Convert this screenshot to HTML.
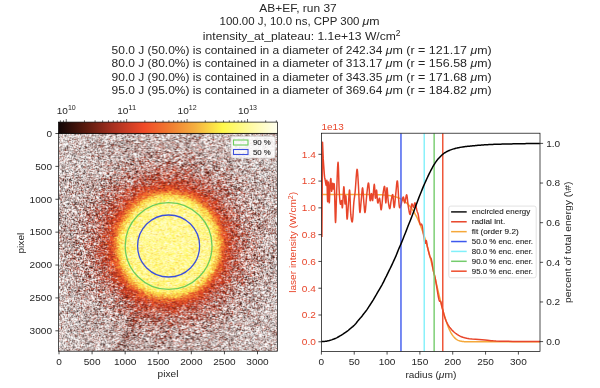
<!DOCTYPE html>
<html><head><meta charset="utf-8"><style>
html,body{margin:0;padding:0;background:#fff;width:600px;height:388px;overflow:hidden;position:relative}
#hm{position:absolute;left:58.50px;top:133.30px;width:218.90px;height:217.90px;
background:radial-gradient(circle at 110.10px 112.70px,rgb(254,244,142) 0,rgb(254,244,138) 45px,rgb(251,222,93) 48px,rgb(246,181,67) 51px,rgb(234,119,49) 54px,rgb(218,88,46) 57px,rgb(200,85,61) 61px,rgb(188,98,81) 66px,rgb(186,118,107) 72px,rgb(186,135,127) 80px,rgb(185,149,144) 90px,rgb(187,158,153) 100px,rgb(191,168,165) 115px,rgb(196,181,177) 130px,rgb(209,193,191) 150px)}
</style></head><body>
<canvas id="hm" width="219" height="218"></canvas>
<svg width="600" height="388" viewBox="0 0 600 388" style="position:absolute;left:0;top:0" font-family='"Liberation Sans", sans-serif'><g transform="translate(298.00 11.90)" fill="#262626"><text xml:space="preserve" x="-38.69" y="0.00" font-size="10.99" textLength="77.37" lengthAdjust="spacingAndGlyphs">AB+EF, run 37</text></g><g transform="translate(299.60 24.70)" fill="#262626"><text xml:space="preserve" x="-80.02" y="0.00" font-size="10.99" textLength="143.03" lengthAdjust="spacingAndGlyphs">100.00 J, 10.0 ns, CPP 300 </text><text xml:space="preserve" x="63.00" y="0.00" font-size="10.99" font-style="italic" textLength="6.72" lengthAdjust="spacingAndGlyphs">μ</text><text xml:space="preserve" x="69.73" y="0.00" font-size="10.99" textLength="10.30" lengthAdjust="spacingAndGlyphs">m</text></g><g transform="translate(301.70 39.80)" fill="#262626"><text xml:space="preserve" x="-98.85" y="0.00" font-size="10.99" textLength="192.99" lengthAdjust="spacingAndGlyphs">intensity_at_plateau: 1.1e+13 W/cm</text><text xml:space="preserve" x="94.14" y="-3.81" font-size="8.85" textLength="4.71" lengthAdjust="spacingAndGlyphs">2</text></g><g transform="translate(301.60 53.80)" fill="#262626"><text xml:space="preserve" x="-190.04" y="0.00" font-size="10.99" textLength="274.17" lengthAdjust="spacingAndGlyphs">50.0 J (50.0%) is contained in a diameter of 242.34 </text><text xml:space="preserve" x="84.13" y="0.00" font-size="10.99" font-style="italic" textLength="6.72" lengthAdjust="spacingAndGlyphs">μ</text><text xml:space="preserve" x="90.85" y="0.00" font-size="10.99" textLength="78.05" lengthAdjust="spacingAndGlyphs">m (r = 121.17 </text><text xml:space="preserve" x="168.90" y="0.00" font-size="10.99" font-style="italic" textLength="6.72" lengthAdjust="spacingAndGlyphs">μ</text><text xml:space="preserve" x="175.62" y="0.00" font-size="10.99" textLength="14.42" lengthAdjust="spacingAndGlyphs">m)</text></g><g transform="translate(301.60 67.20)" fill="#262626"><text xml:space="preserve" x="-190.04" y="0.00" font-size="10.99" textLength="274.17" lengthAdjust="spacingAndGlyphs">80.0 J (80.0%) is contained in a diameter of 313.17 </text><text xml:space="preserve" x="84.13" y="0.00" font-size="10.99" font-style="italic" textLength="6.72" lengthAdjust="spacingAndGlyphs">μ</text><text xml:space="preserve" x="90.85" y="0.00" font-size="10.99" textLength="78.05" lengthAdjust="spacingAndGlyphs">m (r = 156.58 </text><text xml:space="preserve" x="168.90" y="0.00" font-size="10.99" font-style="italic" textLength="6.72" lengthAdjust="spacingAndGlyphs">μ</text><text xml:space="preserve" x="175.62" y="0.00" font-size="10.99" textLength="14.42" lengthAdjust="spacingAndGlyphs">m)</text></g><g transform="translate(301.60 80.50)" fill="#262626"><text xml:space="preserve" x="-190.04" y="0.00" font-size="10.99" textLength="274.17" lengthAdjust="spacingAndGlyphs">90.0 J (90.0%) is contained in a diameter of 343.35 </text><text xml:space="preserve" x="84.13" y="0.00" font-size="10.99" font-style="italic" textLength="6.72" lengthAdjust="spacingAndGlyphs">μ</text><text xml:space="preserve" x="90.85" y="0.00" font-size="10.99" textLength="78.05" lengthAdjust="spacingAndGlyphs">m (r = 171.68 </text><text xml:space="preserve" x="168.90" y="0.00" font-size="10.99" font-style="italic" textLength="6.72" lengthAdjust="spacingAndGlyphs">μ</text><text xml:space="preserve" x="175.62" y="0.00" font-size="10.99" textLength="14.42" lengthAdjust="spacingAndGlyphs">m)</text></g><g transform="translate(301.60 93.70)" fill="#262626"><text xml:space="preserve" x="-190.04" y="0.00" font-size="10.99" textLength="274.17" lengthAdjust="spacingAndGlyphs">95.0 J (95.0%) is contained in a diameter of 369.64 </text><text xml:space="preserve" x="84.13" y="0.00" font-size="10.99" font-style="italic" textLength="6.72" lengthAdjust="spacingAndGlyphs">μ</text><text xml:space="preserve" x="90.85" y="0.00" font-size="10.99" textLength="78.05" lengthAdjust="spacingAndGlyphs">m (r = 184.82 </text><text xml:space="preserve" x="168.90" y="0.00" font-size="10.99" font-style="italic" textLength="6.72" lengthAdjust="spacingAndGlyphs">μ</text><text xml:space="preserve" x="175.62" y="0.00" font-size="10.99" textLength="14.42" lengthAdjust="spacingAndGlyphs">m)</text></g><line x1="59.00" y1="351.20" x2="59.00" y2="354.30" stroke="#000" stroke-width="0.7"/><g transform="translate(59.00 364.50)" fill="#262626"><text xml:space="preserve" x="-2.80" y="0.00" font-size="9.15" textLength="5.60" lengthAdjust="spacingAndGlyphs">0</text></g><line x1="55.40" y1="133.50" x2="58.50" y2="133.50" stroke="#000" stroke-width="0.7"/><g transform="translate(52.00 136.80)" fill="#262626"><text xml:space="preserve" x="-5.60" y="0.00" font-size="9.15" textLength="5.60" lengthAdjust="spacingAndGlyphs">0</text></g><line x1="92.09" y1="351.20" x2="92.09" y2="354.30" stroke="#000" stroke-width="0.7"/><g transform="translate(92.09 364.50)" fill="#262626"><text xml:space="preserve" x="-8.40" y="0.00" font-size="9.15" textLength="16.80" lengthAdjust="spacingAndGlyphs">500</text></g><line x1="55.40" y1="166.38" x2="58.50" y2="166.38" stroke="#000" stroke-width="0.7"/><g transform="translate(52.00 169.69)" fill="#262626"><text xml:space="preserve" x="-16.80" y="0.00" font-size="9.15" textLength="16.80" lengthAdjust="spacingAndGlyphs">500</text></g><line x1="125.17" y1="351.20" x2="125.17" y2="354.30" stroke="#000" stroke-width="0.7"/><g transform="translate(125.17 364.50)" fill="#262626"><text xml:space="preserve" x="-11.20" y="0.00" font-size="9.15" textLength="22.40" lengthAdjust="spacingAndGlyphs">1000</text></g><line x1="55.40" y1="199.27" x2="58.50" y2="199.27" stroke="#000" stroke-width="0.7"/><g transform="translate(52.00 202.57)" fill="#262626"><text xml:space="preserve" x="-22.40" y="0.00" font-size="9.15" textLength="22.40" lengthAdjust="spacingAndGlyphs">1000</text></g><line x1="158.25" y1="351.20" x2="158.25" y2="354.30" stroke="#000" stroke-width="0.7"/><g transform="translate(158.25 364.50)" fill="#262626"><text xml:space="preserve" x="-11.20" y="0.00" font-size="9.15" textLength="22.40" lengthAdjust="spacingAndGlyphs">1500</text></g><line x1="55.40" y1="232.15" x2="58.50" y2="232.15" stroke="#000" stroke-width="0.7"/><g transform="translate(52.00 235.45)" fill="#262626"><text xml:space="preserve" x="-22.40" y="0.00" font-size="9.15" textLength="22.40" lengthAdjust="spacingAndGlyphs">1500</text></g><line x1="191.34" y1="351.20" x2="191.34" y2="354.30" stroke="#000" stroke-width="0.7"/><g transform="translate(191.34 364.50)" fill="#262626"><text xml:space="preserve" x="-11.20" y="0.00" font-size="9.15" textLength="22.40" lengthAdjust="spacingAndGlyphs">2000</text></g><line x1="55.40" y1="265.04" x2="58.50" y2="265.04" stroke="#000" stroke-width="0.7"/><g transform="translate(52.00 268.34)" fill="#262626"><text xml:space="preserve" x="-22.40" y="0.00" font-size="9.15" textLength="22.40" lengthAdjust="spacingAndGlyphs">2000</text></g><line x1="224.43" y1="351.20" x2="224.43" y2="354.30" stroke="#000" stroke-width="0.7"/><g transform="translate(224.43 364.50)" fill="#262626"><text xml:space="preserve" x="-11.20" y="0.00" font-size="9.15" textLength="22.40" lengthAdjust="spacingAndGlyphs">2500</text></g><line x1="55.40" y1="297.92" x2="58.50" y2="297.92" stroke="#000" stroke-width="0.7"/><g transform="translate(52.00 301.22)" fill="#262626"><text xml:space="preserve" x="-22.40" y="0.00" font-size="9.15" textLength="22.40" lengthAdjust="spacingAndGlyphs">2500</text></g><line x1="257.51" y1="351.20" x2="257.51" y2="354.30" stroke="#000" stroke-width="0.7"/><g transform="translate(257.51 364.50)" fill="#262626"><text xml:space="preserve" x="-11.20" y="0.00" font-size="9.15" textLength="22.40" lengthAdjust="spacingAndGlyphs">3000</text></g><line x1="55.40" y1="330.81" x2="58.50" y2="330.81" stroke="#000" stroke-width="0.7"/><g transform="translate(52.00 334.11)" fill="#262626"><text xml:space="preserve" x="-22.40" y="0.00" font-size="9.15" textLength="22.40" lengthAdjust="spacingAndGlyphs">3000</text></g><g transform="translate(168.00 376.60)" fill="#262626"><text xml:space="preserve" x="-10.41" y="0.00" font-size="9.15" textLength="20.83" lengthAdjust="spacingAndGlyphs">pixel</text></g><g transform="translate(24.00 243.10) rotate(-90)" fill="#262626"><text xml:space="preserve" x="-10.41" y="0.00" font-size="9.15" textLength="20.83" lengthAdjust="spacingAndGlyphs">pixel</text></g><circle cx="168.60" cy="246.00" r="43.4" fill="none" stroke="#6ccc5c" stroke-width="1.3"/><circle cx="168.60" cy="246.00" r="31.0" fill="none" stroke="#3c50dc" stroke-width="1.3"/><rect x="231" y="136.5" width="44" height="21.5" rx="2" fill="rgba(255,255,255,0.85)" stroke="#d6d6d6" stroke-width="0.7"/><rect x="233.5" y="140" width="14.5" height="5" fill="none" stroke="#6ccc5c" stroke-width="1.1"/><rect x="233.5" y="149.5" width="14.5" height="5" fill="none" stroke="#3c50dc" stroke-width="1.1"/><g transform="translate(253.00 145.20)" fill="#262626" stroke="#262626" stroke-width="0.12"><text xml:space="preserve" x="0.00" y="0.00" font-size="7.28" textLength="17.78" lengthAdjust="spacingAndGlyphs">90 %</text></g><g transform="translate(253.00 154.70)" fill="#262626" stroke="#262626" stroke-width="0.12"><text xml:space="preserve" x="0.00" y="0.00" font-size="7.28" textLength="17.78" lengthAdjust="spacingAndGlyphs">50 %</text></g><rect x="58.50" y="133.30" width="218.90" height="217.90" fill="none" stroke="#000" stroke-width="0.7"/><defs><linearGradient id="cb" x1="0" x2="1" y1="0" y2="0"><stop offset="0.000" stop-color="rgb(16,5,5)"/><stop offset="0.125" stop-color="rgb(90,26,14)"/><stop offset="0.250" stop-color="rgb(168,48,32)"/><stop offset="0.390" stop-color="rgb(240,74,40)"/><stop offset="0.500" stop-color="rgb(240,120,48)"/><stop offset="0.625" stop-color="rgb(245,176,64)"/><stop offset="0.750" stop-color="rgb(255,248,74)"/><stop offset="0.875" stop-color="rgb(255,250,160)"/><stop offset="1.000" stop-color="rgb(255,255,240)"/></linearGradient></defs><rect x="58.50" y="122.10" width="218.90" height="11.20" fill="url(#cb)" stroke="#000" stroke-width="0.7"/><line x1="60.39" y1="120.30" x2="60.39" y2="122.10" stroke="#000" stroke-width="0.6"/><line x1="63.49" y1="120.30" x2="63.49" y2="122.10" stroke="#000" stroke-width="0.6"/><line x1="66.25" y1="119.00" x2="66.25" y2="122.10" stroke="#000" stroke-width="0.6"/><g transform="translate(66.25 113.60)" fill="#262626"><text xml:space="preserve" x="-9.52" y="0.00" font-size="9.15" textLength="11.20" lengthAdjust="spacingAndGlyphs">10</text><text xml:space="preserve" x="1.68" y="-3.34" font-size="7.37" textLength="7.84" lengthAdjust="spacingAndGlyphs">10</text></g><line x1="84.44" y1="120.30" x2="84.44" y2="122.10" stroke="#000" stroke-width="0.6"/><line x1="95.08" y1="120.30" x2="95.08" y2="122.10" stroke="#000" stroke-width="0.6"/><line x1="102.63" y1="120.30" x2="102.63" y2="122.10" stroke="#000" stroke-width="0.6"/><line x1="108.48" y1="120.30" x2="108.48" y2="122.10" stroke="#000" stroke-width="0.6"/><line x1="113.27" y1="120.30" x2="113.27" y2="122.10" stroke="#000" stroke-width="0.6"/><line x1="117.31" y1="120.30" x2="117.31" y2="122.10" stroke="#000" stroke-width="0.6"/><line x1="120.81" y1="120.30" x2="120.81" y2="122.10" stroke="#000" stroke-width="0.6"/><line x1="123.91" y1="120.30" x2="123.91" y2="122.10" stroke="#000" stroke-width="0.6"/><line x1="126.67" y1="119.00" x2="126.67" y2="122.10" stroke="#000" stroke-width="0.6"/><g transform="translate(126.67 113.60)" fill="#262626"><text xml:space="preserve" x="-9.52" y="0.00" font-size="9.15" textLength="11.20" lengthAdjust="spacingAndGlyphs">10</text><text xml:space="preserve" x="1.68" y="-3.34" font-size="7.37" textLength="7.84" lengthAdjust="spacingAndGlyphs">11</text></g><line x1="144.86" y1="120.30" x2="144.86" y2="122.10" stroke="#000" stroke-width="0.6"/><line x1="155.50" y1="120.30" x2="155.50" y2="122.10" stroke="#000" stroke-width="0.6"/><line x1="163.05" y1="120.30" x2="163.05" y2="122.10" stroke="#000" stroke-width="0.6"/><line x1="168.90" y1="120.30" x2="168.90" y2="122.10" stroke="#000" stroke-width="0.6"/><line x1="173.69" y1="120.30" x2="173.69" y2="122.10" stroke="#000" stroke-width="0.6"/><line x1="177.73" y1="120.30" x2="177.73" y2="122.10" stroke="#000" stroke-width="0.6"/><line x1="181.23" y1="120.30" x2="181.23" y2="122.10" stroke="#000" stroke-width="0.6"/><line x1="184.33" y1="120.30" x2="184.33" y2="122.10" stroke="#000" stroke-width="0.6"/><line x1="187.09" y1="119.00" x2="187.09" y2="122.10" stroke="#000" stroke-width="0.6"/><g transform="translate(187.09 113.60)" fill="#262626"><text xml:space="preserve" x="-9.52" y="0.00" font-size="9.15" textLength="11.20" lengthAdjust="spacingAndGlyphs">10</text><text xml:space="preserve" x="1.68" y="-3.34" font-size="7.37" textLength="7.84" lengthAdjust="spacingAndGlyphs">12</text></g><line x1="205.28" y1="120.30" x2="205.28" y2="122.10" stroke="#000" stroke-width="0.6"/><line x1="215.92" y1="120.30" x2="215.92" y2="122.10" stroke="#000" stroke-width="0.6"/><line x1="223.47" y1="120.30" x2="223.47" y2="122.10" stroke="#000" stroke-width="0.6"/><line x1="229.32" y1="120.30" x2="229.32" y2="122.10" stroke="#000" stroke-width="0.6"/><line x1="234.11" y1="120.30" x2="234.11" y2="122.10" stroke="#000" stroke-width="0.6"/><line x1="238.15" y1="120.30" x2="238.15" y2="122.10" stroke="#000" stroke-width="0.6"/><line x1="241.65" y1="120.30" x2="241.65" y2="122.10" stroke="#000" stroke-width="0.6"/><line x1="244.75" y1="120.30" x2="244.75" y2="122.10" stroke="#000" stroke-width="0.6"/><line x1="247.51" y1="119.00" x2="247.51" y2="122.10" stroke="#000" stroke-width="0.6"/><g transform="translate(247.51 113.60)" fill="#262626"><text xml:space="preserve" x="-9.52" y="0.00" font-size="9.15" textLength="11.20" lengthAdjust="spacingAndGlyphs">10</text><text xml:space="preserve" x="1.68" y="-3.34" font-size="7.37" textLength="7.84" lengthAdjust="spacingAndGlyphs">13</text></g><line x1="265.70" y1="120.30" x2="265.70" y2="122.10" stroke="#000" stroke-width="0.6"/><line x1="276.34" y1="120.30" x2="276.34" y2="122.10" stroke="#000" stroke-width="0.6"/><line x1="321.40" y1="351.50" x2="321.40" y2="354.60" stroke="#000" stroke-width="0.7"/><g transform="translate(321.40 364.50)" fill="#262626"><text xml:space="preserve" x="-2.80" y="0.00" font-size="9.15" textLength="5.60" lengthAdjust="spacingAndGlyphs">0</text></g><line x1="354.23" y1="351.50" x2="354.23" y2="354.60" stroke="#000" stroke-width="0.7"/><g transform="translate(354.23 364.50)" fill="#262626"><text xml:space="preserve" x="-5.60" y="0.00" font-size="9.15" textLength="11.20" lengthAdjust="spacingAndGlyphs">50</text></g><line x1="387.07" y1="351.50" x2="387.07" y2="354.60" stroke="#000" stroke-width="0.7"/><g transform="translate(387.07 364.50)" fill="#262626"><text xml:space="preserve" x="-8.40" y="0.00" font-size="9.15" textLength="16.80" lengthAdjust="spacingAndGlyphs">100</text></g><line x1="419.90" y1="351.50" x2="419.90" y2="354.60" stroke="#000" stroke-width="0.7"/><g transform="translate(419.90 364.50)" fill="#262626"><text xml:space="preserve" x="-8.40" y="0.00" font-size="9.15" textLength="16.80" lengthAdjust="spacingAndGlyphs">150</text></g><line x1="452.73" y1="351.50" x2="452.73" y2="354.60" stroke="#000" stroke-width="0.7"/><g transform="translate(452.73 364.50)" fill="#262626"><text xml:space="preserve" x="-8.40" y="0.00" font-size="9.15" textLength="16.80" lengthAdjust="spacingAndGlyphs">200</text></g><line x1="485.57" y1="351.50" x2="485.57" y2="354.60" stroke="#000" stroke-width="0.7"/><g transform="translate(485.57 364.50)" fill="#262626"><text xml:space="preserve" x="-8.40" y="0.00" font-size="9.15" textLength="16.80" lengthAdjust="spacingAndGlyphs">250</text></g><line x1="518.40" y1="351.50" x2="518.40" y2="354.60" stroke="#000" stroke-width="0.7"/><g transform="translate(518.40 364.50)" fill="#262626"><text xml:space="preserve" x="-8.40" y="0.00" font-size="9.15" textLength="16.80" lengthAdjust="spacingAndGlyphs">300</text></g><g transform="translate(430.90 377.60)" fill="#262626"><text xml:space="preserve" x="-25.52" y="0.00" font-size="9.15" textLength="33.43" lengthAdjust="spacingAndGlyphs">radius (</text><text xml:space="preserve" x="7.91" y="0.00" font-size="9.15" font-style="italic" textLength="5.60" lengthAdjust="spacingAndGlyphs">μ</text><text xml:space="preserve" x="13.51" y="0.00" font-size="9.15" textLength="12.01" lengthAdjust="spacingAndGlyphs">m)</text></g><line x1="318.40" y1="341.80" x2="321.50" y2="341.80" stroke="#000" stroke-width="0.7"/><g transform="translate(315.80 345.10)" fill="#e8452a"><text xml:space="preserve" x="-14.00" y="0.00" font-size="9.15" textLength="14.00" lengthAdjust="spacingAndGlyphs">0.0</text></g><line x1="318.40" y1="315.01" x2="321.50" y2="315.01" stroke="#000" stroke-width="0.7"/><g transform="translate(315.80 318.31)" fill="#e8452a"><text xml:space="preserve" x="-14.00" y="0.00" font-size="9.15" textLength="14.00" lengthAdjust="spacingAndGlyphs">0.2</text></g><line x1="318.40" y1="288.23" x2="321.50" y2="288.23" stroke="#000" stroke-width="0.7"/><g transform="translate(315.80 291.53)" fill="#e8452a"><text xml:space="preserve" x="-14.00" y="0.00" font-size="9.15" textLength="14.00" lengthAdjust="spacingAndGlyphs">0.4</text></g><line x1="318.40" y1="261.44" x2="321.50" y2="261.44" stroke="#000" stroke-width="0.7"/><g transform="translate(315.80 264.74)" fill="#e8452a"><text xml:space="preserve" x="-14.00" y="0.00" font-size="9.15" textLength="14.00" lengthAdjust="spacingAndGlyphs">0.6</text></g><line x1="318.40" y1="234.66" x2="321.50" y2="234.66" stroke="#000" stroke-width="0.7"/><g transform="translate(315.80 237.96)" fill="#e8452a"><text xml:space="preserve" x="-14.00" y="0.00" font-size="9.15" textLength="14.00" lengthAdjust="spacingAndGlyphs">0.8</text></g><line x1="318.40" y1="207.87" x2="321.50" y2="207.87" stroke="#000" stroke-width="0.7"/><g transform="translate(315.80 211.17)" fill="#e8452a"><text xml:space="preserve" x="-14.00" y="0.00" font-size="9.15" textLength="14.00" lengthAdjust="spacingAndGlyphs">1.0</text></g><line x1="318.40" y1="181.08" x2="321.50" y2="181.08" stroke="#000" stroke-width="0.7"/><g transform="translate(315.80 184.38)" fill="#e8452a"><text xml:space="preserve" x="-14.00" y="0.00" font-size="9.15" textLength="14.00" lengthAdjust="spacingAndGlyphs">1.2</text></g><line x1="318.40" y1="154.30" x2="321.50" y2="154.30" stroke="#000" stroke-width="0.7"/><g transform="translate(315.80 157.60)" fill="#e8452a"><text xml:space="preserve" x="-14.00" y="0.00" font-size="9.15" textLength="14.00" lengthAdjust="spacingAndGlyphs">1.4</text></g><g transform="translate(321.50 130.10)" fill="#e8452a"><text xml:space="preserve" x="0.00" y="0.00" font-size="9.15" textLength="22.21" lengthAdjust="spacingAndGlyphs">1e13</text></g><g transform="translate(295.50 242.30) rotate(-90)" fill="#e8452a"><text xml:space="preserve" x="-50.53" y="0.00" font-size="9.15" textLength="93.71" lengthAdjust="spacingAndGlyphs">laser intensity (W/cm</text><text xml:space="preserve" x="43.18" y="-2.90" font-size="7.37" textLength="3.92" lengthAdjust="spacingAndGlyphs">2</text><text xml:space="preserve" x="47.10" y="0.00" font-size="9.15" textLength="3.43" lengthAdjust="spacingAndGlyphs">)</text></g><line x1="540.00" y1="341.60" x2="543.10" y2="341.60" stroke="#000" stroke-width="0.7"/><g transform="translate(546.20 344.90)" fill="#262626"><text xml:space="preserve" x="0.00" y="0.00" font-size="9.15" textLength="14.00" lengthAdjust="spacingAndGlyphs">0.0</text></g><line x1="540.00" y1="301.96" x2="543.10" y2="301.96" stroke="#000" stroke-width="0.7"/><g transform="translate(546.20 305.26)" fill="#262626"><text xml:space="preserve" x="0.00" y="0.00" font-size="9.15" textLength="14.00" lengthAdjust="spacingAndGlyphs">0.2</text></g><line x1="540.00" y1="262.32" x2="543.10" y2="262.32" stroke="#000" stroke-width="0.7"/><g transform="translate(546.20 265.62)" fill="#262626"><text xml:space="preserve" x="0.00" y="0.00" font-size="9.15" textLength="14.00" lengthAdjust="spacingAndGlyphs">0.4</text></g><line x1="540.00" y1="222.68" x2="543.10" y2="222.68" stroke="#000" stroke-width="0.7"/><g transform="translate(546.20 225.98)" fill="#262626"><text xml:space="preserve" x="0.00" y="0.00" font-size="9.15" textLength="14.00" lengthAdjust="spacingAndGlyphs">0.6</text></g><line x1="540.00" y1="183.04" x2="543.10" y2="183.04" stroke="#000" stroke-width="0.7"/><g transform="translate(546.20 186.34)" fill="#262626"><text xml:space="preserve" x="0.00" y="0.00" font-size="9.15" textLength="14.00" lengthAdjust="spacingAndGlyphs">0.8</text></g><line x1="540.00" y1="143.40" x2="543.10" y2="143.40" stroke="#000" stroke-width="0.7"/><g transform="translate(546.20 146.70)" fill="#262626"><text xml:space="preserve" x="0.00" y="0.00" font-size="9.15" textLength="14.00" lengthAdjust="spacingAndGlyphs">1.0</text></g><g transform="translate(571.00 242.30) rotate(-90)" fill="#262626"><text xml:space="preserve" x="-60.68" y="0.00" font-size="9.15" textLength="121.37" lengthAdjust="spacingAndGlyphs">percent of total energy (\#)</text></g><defs><clipPath id="rc"><rect x="321.50" y="133.20" width="218.50" height="218.30"/></clipPath></defs><g clip-path="url(#rc)"><polyline points="321.40,194.48 321.95,194.48 322.50,194.48 323.04,194.48 323.59,194.48 324.14,194.48 324.69,194.48 325.23,194.48 325.78,194.48 326.33,194.48 326.88,194.48 327.42,194.48 327.97,194.48 328.52,194.48 329.07,194.48 329.61,194.48 330.16,194.48 330.71,194.48 331.26,194.48 331.80,194.48 332.35,194.48 332.90,194.48 333.45,194.48 333.99,194.48 334.54,194.48 335.09,194.48 335.64,194.48 336.18,194.48 336.73,194.48 337.28,194.48 337.83,194.48 338.37,194.48 338.92,194.48 339.47,194.48 340.02,194.48 340.56,194.48 341.11,194.48 341.66,194.48 342.21,194.48 342.75,194.48 343.30,194.48 343.85,194.48 344.40,194.48 344.94,194.48 345.49,194.48 346.04,194.48 346.59,194.48 347.14,194.48 347.68,194.48 348.23,194.48 348.78,194.48 349.33,194.48 349.87,194.48 350.42,194.48 350.97,194.48 351.52,194.48 352.06,194.48 352.61,194.48 353.16,194.48 353.71,194.48 354.25,194.48 354.80,194.48 355.35,194.48 355.90,194.48 356.44,194.48 356.99,194.48 357.54,194.48 358.09,194.48 358.63,194.48 359.18,194.48 359.73,194.48 360.28,194.48 360.82,194.48 361.37,194.49 361.92,194.49 362.47,194.49 363.01,194.49 363.56,194.49 364.11,194.49 364.66,194.49 365.20,194.50 365.75,194.50 366.30,194.50 366.85,194.50 367.39,194.51 367.94,194.51 368.49,194.51 369.04,194.52 369.58,194.52 370.13,194.53 370.68,194.53 371.23,194.54 371.77,194.55 372.32,194.55 372.87,194.56 373.42,194.57 373.97,194.58 374.51,194.59 375.06,194.60 375.61,194.61 376.16,194.63 376.70,194.64 377.25,194.66 377.80,194.67 378.35,194.69 378.89,194.71 379.44,194.73 379.99,194.75 380.54,194.78 381.08,194.81 381.63,194.83 382.18,194.86 382.73,194.90 383.27,194.93 383.82,194.97 384.37,195.01 384.92,195.06 385.46,195.11 386.01,195.16 386.56,195.21 387.11,195.27 387.65,195.33 388.20,195.40 388.75,195.47 389.30,195.55 389.84,195.63 390.39,195.72 390.94,195.81 391.49,195.91 392.03,196.02 392.58,196.13 393.13,196.25 393.68,196.38 394.22,196.51 394.77,196.66 395.32,196.81 395.87,196.97 396.41,197.14 396.96,197.33 397.51,197.52 398.06,197.73 398.61,197.94 399.15,198.17 399.70,198.42 400.25,198.67 400.80,198.94 401.34,199.23 401.89,199.53 402.44,199.85 402.99,200.19 403.53,200.55 404.08,200.92 404.63,201.31 405.18,201.73 405.72,202.16 406.27,202.62 406.82,203.10 407.37,203.61 407.91,204.14 408.46,204.70 409.01,205.28 409.56,205.89 410.10,206.54 410.65,207.21 411.20,207.91 411.75,208.64 412.29,209.41 412.84,210.21 413.39,211.05 413.94,211.92 414.48,212.83 415.03,213.78 415.58,214.77 416.13,215.79 416.67,216.86 417.22,217.97 417.77,219.12 418.32,220.32 418.86,221.56 419.41,222.84 419.96,224.17 420.51,225.55 421.05,226.97 421.60,228.44 422.15,229.96 422.70,231.52 423.25,233.14 423.79,234.80 424.34,236.50 424.89,238.26 425.44,240.06 425.98,241.90 426.53,243.80 427.08,245.73 427.63,247.71 428.17,249.73 428.72,251.80 429.27,253.90 429.82,256.03 430.36,258.21 430.91,260.41 431.46,262.65 432.01,264.91 432.55,267.20 433.10,269.51 433.65,271.84 434.20,274.19 434.74,276.55 435.29,278.91 435.84,281.28 436.39,283.65 436.93,286.02 437.48,288.37 438.03,290.72 438.58,293.05 439.12,295.35 439.67,297.63 440.22,299.88 440.77,302.10 441.31,304.28 441.86,306.41 442.41,308.50 442.96,310.53 443.50,312.51 444.05,314.43 444.60,316.29 445.15,318.09 445.69,319.82 446.24,321.48 446.79,323.07 447.34,324.58 447.89,326.02 448.43,327.39 448.98,328.68 449.53,329.90 450.08,331.04 450.62,332.10 451.17,333.09 451.72,334.01 452.27,334.86 452.81,335.65 453.36,336.36 453.91,337.02 454.46,337.61 455.00,338.15 455.55,338.63 456.10,339.06 456.65,339.45 457.19,339.79 457.74,340.09 458.29,340.35 458.84,340.58 459.38,340.78 459.93,340.95 460.48,341.10 461.03,341.23 461.57,341.33 462.12,341.42 462.67,341.49 463.22,341.56 463.76,341.61 464.31,341.65 464.86,341.68 465.41,341.71 465.95,341.73 466.50,341.75 467.05,341.76 467.60,341.77 468.14,341.78 468.69,341.78 469.24,341.79 469.79,341.79 470.33,341.79 470.88,341.80 471.43,341.80 471.98,341.80 472.52,341.80 473.07,341.80 473.62,341.80 474.17,341.80 474.72,341.80 475.26,341.80 475.81,341.80 476.36,341.80 476.91,341.80 477.45,341.80 478.00,341.80 478.55,341.80 479.10,341.80 479.64,341.80 480.19,341.80 480.74,341.80 481.29,341.80 481.83,341.80 482.38,341.80 482.93,341.80 483.48,341.80 484.02,341.80 484.57,341.80 485.12,341.80 485.67,341.80 486.21,341.80 486.76,341.80 487.31,341.80 487.86,341.80 488.40,341.80 488.95,341.80 489.50,341.80 490.05,341.80 490.59,341.80 491.14,341.80 491.69,341.80 492.24,341.80 492.78,341.80 493.33,341.80 493.88,341.80 494.43,341.80 494.97,341.80 495.52,341.80 496.07,341.80 496.62,341.80 497.16,341.80 497.71,341.80 498.26,341.80 498.81,341.80 499.36,341.80 499.90,341.80 500.45,341.80 501.00,341.80 501.55,341.80 502.09,341.80 502.64,341.80 503.19,341.80 503.74,341.80 504.28,341.80 504.83,341.80 505.38,341.80 505.93,341.80 506.47,341.80 507.02,341.80 507.57,341.80 508.12,341.80 508.66,341.80 509.21,341.80 509.76,341.80 510.31,341.80 510.85,341.80 511.40,341.80 511.95,341.80 512.50,341.80 513.04,341.80 513.59,341.80 514.14,341.80 514.69,341.80 515.23,341.80 515.78,341.80 516.33,341.80 516.88,341.80 517.42,341.80 517.97,341.80 518.52,341.80 519.07,341.80 519.61,341.80 520.16,341.80 520.71,341.80 521.26,341.80 521.80,341.80 522.35,341.80 522.90,341.80 523.45,341.80 524.00,341.80 524.54,341.80 525.09,341.80 525.64,341.80 526.19,341.80 526.73,341.80 527.28,341.80 527.83,341.80 528.38,341.80 528.92,341.80 529.47,341.80 530.02,341.80 530.57,341.80 531.11,341.80 531.66,341.80 532.21,341.80 532.76,341.80 533.30,341.80 533.85,341.80 534.40,341.80 534.95,341.80 535.49,341.80 536.04,341.80 536.59,341.80 537.14,341.80 537.68,341.80 538.23,341.80 538.78,341.80 539.33,341.80 539.87,341.80" fill="none" stroke="#f5a83a" stroke-width="1.50" stroke-linejoin="round"/><polyline points="321.90,237.00 322.55,142.22 323.24,158.89 323.37,160.79 323.56,163.52 323.78,166.70 324.00,169.95 324.22,172.87 324.40,175.09 324.54,176.52 324.65,177.45 324.75,178.06 324.84,178.52 324.96,179.02 325.09,179.72 325.26,180.74 325.46,181.95 325.67,183.19 325.88,184.31 326.08,185.13 326.25,185.51 326.39,185.05 326.52,183.79 326.63,182.25 326.73,180.92 326.83,180.30 326.94,180.88 327.06,183.35 327.18,187.44 327.29,192.24 327.41,196.83 327.52,200.29 327.64,201.71 327.75,200.31 327.86,196.65 327.97,191.88 328.08,187.10 328.20,183.44 328.33,182.04 328.48,183.59 328.63,187.35 328.80,192.24 328.96,197.17 329.12,201.07 329.26,202.87 329.39,202.22 329.50,199.91 329.61,196.58 329.71,192.84 329.83,189.33 329.95,186.67 330.10,184.61 330.25,182.59 330.42,180.81 330.58,179.42 330.74,178.62 330.88,178.56 331.00,179.72 331.11,182.04 331.21,184.93 331.32,187.82 331.43,190.14 331.57,191.30 331.75,190.99 331.94,189.62 332.15,187.68 332.36,185.64 332.56,183.98 332.73,183.19 332.87,183.46 332.99,184.44 333.09,185.80 333.19,187.22 333.30,188.39 333.43,188.98 333.56,188.47 333.71,187.01 333.86,185.29 334.02,184.01 334.18,183.85 334.35,185.51 334.53,190.13 334.72,197.38 334.92,205.76 335.11,213.76 335.31,219.86 335.51,222.55 335.70,221.26 335.89,217.10 336.07,211.04 336.26,204.07 336.46,197.16 336.67,191.30 336.89,185.67 337.12,179.34 337.36,173.07 337.60,167.63 337.83,163.81 338.06,162.36 338.26,164.02 338.46,168.32 338.65,174.22 338.84,180.71 339.02,186.74 339.21,191.30 339.41,194.54 339.60,197.34 339.79,199.69 339.98,201.58 340.18,203.03 340.37,204.03 340.57,204.27 340.76,203.68 340.96,202.65 341.16,201.54 341.35,200.72 341.53,200.56 341.69,201.43 341.84,203.13 341.98,205.11 342.12,206.86 342.28,207.83 342.45,207.50 342.66,205.19 342.89,201.20 343.13,196.43 343.38,191.81 343.62,188.25 343.84,186.67 344.05,187.64 344.25,190.57 344.45,194.55 344.64,198.71 344.82,202.17 345.00,204.03 345.17,203.79 345.32,202.06 345.46,199.62 345.61,197.25 345.76,195.76 345.93,195.93 346.10,198.43 346.29,202.78 346.48,208.01 346.67,213.12 346.87,217.13 347.08,219.07 347.30,218.61 347.54,216.46 347.78,213.21 348.02,209.47 348.25,205.83 348.47,202.87 348.68,200.12 348.88,197.00 349.07,193.97 349.25,191.51 349.44,190.08 349.63,190.14 349.82,192.25 350.00,196.14 350.18,201.06 350.37,206.26 350.57,210.97 350.79,214.44 351.03,216.90 351.30,218.99 351.58,220.59 351.87,221.60 352.15,221.91 352.41,221.39 352.65,219.70 352.89,216.84 353.12,213.29 353.34,209.47 353.57,205.85 353.80,202.87 354.02,200.66 354.24,198.88 354.46,197.30 354.69,195.67 354.93,193.75 355.19,191.30 355.47,187.79 355.79,183.32 356.11,178.56 356.44,174.19 356.75,170.88 357.04,169.31 357.30,169.68 357.53,171.49 357.76,174.37 357.98,177.92 358.20,181.76 358.43,185.51 358.66,189.79 358.89,195.03 359.12,200.56 359.35,205.70 359.58,209.78 359.81,212.13 360.05,212.42 360.28,211.14 360.51,208.80 360.74,205.91 360.97,202.99 361.20,200.56 361.44,198.17 361.67,195.33 361.90,192.45 362.13,189.97 362.36,188.28 362.59,187.82 362.83,188.94 363.06,191.38 363.30,194.62 363.54,198.16 363.76,201.46 363.98,204.03 364.18,206.17 364.36,208.36 364.53,210.32 364.71,211.79 364.91,212.48 365.14,212.13 365.41,210.34 365.71,207.24 366.04,203.38 366.36,199.27 366.69,195.45 366.99,192.45 367.28,190.00 367.55,187.61 367.82,185.51 368.09,183.92 368.35,183.08 368.61,183.19 368.87,184.83 369.12,187.91 369.37,191.73 369.61,195.58 369.85,198.76 370.09,200.56 370.33,200.64 370.57,199.53 370.81,197.73 371.04,195.80 371.26,194.25 371.48,193.61 371.68,194.23 371.87,195.75 372.05,197.66 372.23,199.44 372.42,200.58 372.64,200.56 372.89,198.85 373.16,195.75 373.45,192.02 373.74,188.38 374.01,185.58 374.26,184.35 374.48,185.18 374.68,187.57 374.87,190.79 375.05,194.13 375.23,196.85 375.42,198.24 375.61,197.92 375.80,196.40 376.00,194.26 376.19,192.11 376.38,190.54 376.57,190.14 376.76,191.26 376.93,193.48 377.11,196.29 377.29,199.14 377.50,201.51 377.73,202.87 378.00,202.92 378.31,202.01 378.63,200.63 378.96,199.23 379.28,198.28 379.58,198.24 379.86,199.55 380.13,201.93 380.39,204.75 380.66,207.41 380.92,209.31 381.20,209.81 381.50,208.61 381.81,206.13 382.13,202.87 382.45,199.36 382.76,196.10 383.06,193.61 383.34,191.65 383.63,189.75 383.91,188.11 384.18,186.92 384.44,186.38 384.68,186.67 384.90,188.39 385.10,191.51 385.28,195.27 385.46,198.93 385.65,201.71 385.83,202.87 386.03,201.85 386.22,199.14 386.41,195.56 386.60,191.94 386.80,189.09 386.99,187.82 387.18,188.39 387.36,190.18 387.54,192.74 387.73,195.63 387.93,198.38 388.15,200.56 388.39,202.36 388.66,204.20 388.94,205.91 389.23,207.33 389.51,208.30 389.77,208.66 390.01,208.22 390.24,207.07 390.46,205.47 390.69,203.68 390.92,201.96 391.16,200.56 391.42,199.24 391.69,197.77 391.97,196.36 392.25,195.24 392.52,194.63 392.78,194.77 393.02,196.13 393.25,198.63 393.47,201.64 393.70,204.54 393.92,206.70 394.17,207.50 394.42,206.71 394.69,204.80 394.96,202.15 395.24,199.14 395.51,196.17 395.79,193.61 396.06,191.01 396.33,187.95 396.60,184.93 396.87,182.42 397.14,180.91 397.41,180.88 397.68,182.89 397.96,186.67 398.25,191.44 398.52,196.44 398.78,200.89 399.03,204.03 399.24,205.87 399.42,207.03 399.59,207.64 399.77,207.84 399.96,207.75 400.19,207.50 400.46,206.91 400.77,205.83 401.10,204.46 401.43,203.00 401.75,201.63 402.04,200.56 402.30,199.67 402.53,198.80 402.76,198.02 402.98,197.43 403.20,197.09 403.43,197.08 403.65,197.67 403.87,198.84 404.09,200.27 404.32,201.63 404.56,202.60 404.81,202.87 405.10,202.10 405.41,200.47 405.73,198.46 406.05,196.53 406.37,195.14 406.67,194.77 406.95,195.60 407.22,197.30 407.48,199.54 407.74,202.01 408.01,204.39 408.29,206.34 408.58,208.11 408.90,209.99 409.21,211.77 409.53,213.24 409.84,214.21 410.14,214.44 410.42,213.62 410.69,211.83 410.95,209.53 411.21,207.16 411.48,205.17 411.76,204.03 412.06,203.90 412.38,204.46 412.70,205.40 413.02,206.43 413.33,207.23 413.61,207.50 413.86,207.05 414.09,206.09 414.30,204.90 414.51,203.78 414.74,203.01 415.00,202.87 415.31,203.52 415.65,204.76 416.02,206.35 416.38,208.06 416.71,209.63 417.01,210.85 417.25,211.65 417.45,212.21 417.64,212.65 417.81,213.07 417.98,213.59 418.16,214.32 418.36,215.32 418.55,216.51 418.74,217.80 418.94,219.08 419.13,220.27 419.32,221.27 419.52,222.10 419.71,222.83 419.90,223.47 420.09,224.01 420.29,224.44 420.48,224.75 420.67,224.84 420.87,224.69 421.06,224.44 421.25,224.21 421.45,224.11 421.64,224.28 421.83,224.71 422.02,225.30 422.22,226.03 422.41,226.89 422.60,227.86 422.80,228.92 422.99,230.15 423.18,231.58 423.38,233.13 423.57,234.69 423.76,236.17 423.96,237.49 424.15,238.71 424.34,239.94 424.53,241.09 424.73,242.09 424.92,242.84 425.11,243.28 425.31,243.21 425.50,242.65 425.69,241.86 425.89,241.07 426.08,240.54 426.27,240.50 426.45,240.98 426.61,241.80 426.78,242.87 426.96,244.11 427.17,245.43 427.43,246.75 427.76,248.19 428.14,249.83 428.56,251.56 428.98,253.25 429.39,254.77 429.75,256.02 430.05,256.85 430.33,257.35 430.59,257.68 430.84,258.03 431.09,258.58 431.37,259.49 431.66,260.83 431.95,262.47 432.25,264.30 432.56,266.22 432.88,268.13 433.22,269.92 433.57,271.49 433.92,272.92 434.28,274.33 434.67,275.87 435.09,277.67 435.54,279.88 436.05,282.77 436.64,286.31 437.25,290.11 437.85,293.80 438.41,297.01 438.90,299.38 439.30,300.71 439.64,301.25 439.93,301.32 440.21,301.22 440.47,301.24 440.75,301.70 441.01,302.53 441.24,303.50 441.46,304.59 441.70,305.81 442.00,307.16 442.37,308.64 442.83,310.35 443.35,312.29 443.92,314.36 444.54,316.45 445.18,318.44 445.85,320.23 446.53,321.80 447.22,323.26 447.95,324.61 448.72,325.90 449.56,327.13 450.48,328.33 451.48,329.51 452.54,330.65 453.67,331.74 454.86,332.76 456.11,333.72 457.43,334.59 458.74,335.38 460.01,336.09 461.35,336.73 462.85,337.31 464.60,337.83 466.70,338.30 469.26,338.69 472.25,339.00 475.49,339.26 478.80,339.48 482.03,339.69 485.00,339.92 487.40,340.16 489.32,340.41 491.14,340.64 493.27,340.86 496.09,341.05 500.00,341.20 505.68,341.31 512.96,341.38 520.94,341.43 528.70,341.46 535.36,341.48 540.00,341.50" fill="none" stroke="#e8452a" stroke-width="1.50" stroke-linejoin="round"/><line x1="400.97" y1="133.20" x2="400.97" y2="351.50" stroke="#3c58ee" stroke-width="1.4"/><line x1="424.22" y1="133.20" x2="424.22" y2="351.50" stroke="#80f0fa" stroke-width="1.4"/><line x1="434.14" y1="133.20" x2="434.14" y2="351.50" stroke="#74cc6c" stroke-width="1.4"/><line x1="442.77" y1="133.20" x2="442.77" y2="351.50" stroke="#ee4c2c" stroke-width="1.4"/><polyline points="321.40,341.60 322.12,341.59 322.84,341.56 323.57,341.51 324.29,341.44 325.01,341.36 325.73,341.26 326.46,341.14 327.24,341.00 327.97,340.86 328.69,340.69 329.41,340.52 330.13,340.32 330.86,340.10 331.58,339.86 332.30,339.61 333.09,339.31 333.81,339.03 334.53,338.72 335.26,338.43 335.98,338.16 336.70,337.83 337.42,337.44 338.15,337.00 338.93,336.52 339.66,336.11 340.38,335.70 341.10,335.28 341.82,334.85 342.54,334.41 343.27,333.94 343.99,333.42 344.78,332.85 345.50,332.34 346.22,331.80 346.94,331.28 347.67,330.78 348.39,330.23 349.11,329.63 349.83,328.98 350.62,328.31 351.34,327.73 352.07,327.15 352.79,326.57 353.51,325.93 354.23,325.23 354.96,324.48 355.68,323.68 356.47,322.74 357.19,321.81 357.91,320.88 358.63,319.98 359.36,319.14 360.08,318.36 360.80,317.54 361.52,316.68 362.31,315.67 363.03,314.70 363.76,313.77 364.48,312.86 365.20,311.98 365.92,311.06 366.64,310.08 367.43,308.93 368.15,307.83 368.88,306.68 369.60,305.57 370.32,304.49 371.04,303.40 371.77,302.26 372.49,301.13 373.28,299.88 374.00,298.66 374.72,297.39 375.44,296.17 376.17,294.94 376.89,293.66 377.61,292.42 378.33,291.21 379.12,289.84 379.84,288.56 380.57,287.30 381.29,286.07 382.01,284.80 382.73,283.46 383.46,282.05 384.18,280.59 384.97,278.95 385.69,277.52 386.41,276.10 387.13,274.57 387.86,273.06 388.58,271.61 389.30,270.18 390.02,268.77 390.81,267.17 391.53,265.65 392.25,264.09 392.98,262.48 393.70,260.91 394.42,259.38 395.14,257.80 395.87,256.13 396.65,254.21 397.38,252.37 398.10,250.53 398.82,248.80 399.54,247.15 400.27,245.51 400.99,243.85 401.71,242.14 402.50,240.22 403.22,238.41 403.94,236.59 404.67,234.79 405.39,232.98 406.11,231.12 406.83,229.20 407.56,227.31 408.34,225.30 409.07,223.50 409.79,221.73 410.51,219.97 411.23,218.15 411.95,216.24 412.68,214.33 413.47,212.24 414.19,210.31 414.91,208.34 415.63,206.34 416.35,204.37 417.08,202.43 417.80,200.51 418.52,198.61 419.31,196.60 420.03,194.79 420.75,192.99 421.48,191.19 422.20,189.38 422.92,187.61 423.64,185.89 424.37,184.25 425.15,182.50 425.88,180.90 426.60,179.28 427.32,177.69 428.04,176.15 428.77,174.65 429.49,173.18 430.21,171.75 431.00,170.21 431.72,168.82 432.44,167.48 433.17,166.21 433.89,164.99 434.61,163.82 435.33,162.70 436.05,161.62 436.84,160.53 437.56,159.60 438.29,158.74 439.01,157.95 439.73,157.19 440.45,156.44 441.18,155.71 441.90,155.03 442.69,154.35 443.41,153.77 444.13,153.24 444.85,152.74 445.58,152.29 446.30,151.88 447.02,151.49 447.74,151.13 448.53,150.75 449.25,150.44 449.98,150.14 450.70,149.87 451.42,149.61 452.14,149.36 452.87,149.13 453.65,148.88 454.38,148.67 455.10,148.48 455.82,148.29 456.54,148.12 457.27,147.96 457.99,147.81 458.71,147.67 459.50,147.51 460.22,147.38 460.94,147.25 461.66,147.13 462.39,147.02 463.11,146.90 463.83,146.80 464.55,146.70 465.34,146.60 466.06,146.51 466.79,146.43 467.51,146.35 468.23,146.28 468.95,146.20 469.68,146.13 470.40,146.05 471.19,145.97 471.91,145.90 472.63,145.83 473.35,145.76 474.08,145.70 474.80,145.63 475.52,145.57 476.24,145.50 477.03,145.43 477.75,145.37 478.48,145.31 479.20,145.25 479.92,145.19 480.64,145.14 481.36,145.08 482.09,145.03 482.88,144.97 483.60,144.92 484.32,144.87 485.04,144.82 485.76,144.78 486.49,144.73 487.21,144.69 487.93,144.65 488.72,144.60 489.44,144.56 490.16,144.52 490.89,144.49 491.61,144.45 492.33,144.42 493.05,144.38 493.78,144.35 494.56,144.32 495.29,144.29 496.01,144.27 496.73,144.24 497.45,144.22 498.18,144.20 498.90,144.18 499.69,144.16 500.41,144.14 501.13,144.13 501.85,144.11 502.58,144.09 503.30,144.08 504.02,144.06 504.74,144.05 505.53,144.03 506.25,144.01 506.97,144.00 507.70,143.98 508.42,143.97 509.14,143.95 509.86,143.94 510.59,143.92 511.37,143.90 512.10,143.89 512.82,143.87 513.54,143.86 514.26,143.84 514.99,143.83 515.71,143.81 516.43,143.80 517.22,143.79 517.94,143.77 518.66,143.76 519.39,143.74 520.11,143.73 520.83,143.72 521.55,143.70 522.28,143.69 523.06,143.67 523.79,143.66 524.51,143.65 525.23,143.63 525.95,143.62 526.68,143.61 527.40,143.60 528.12,143.58 528.91,143.57 529.63,143.56 530.35,143.55 531.07,143.53 531.80,143.52 532.52,143.51 533.24,143.50 533.96,143.49 534.75,143.48 535.47,143.46 536.20,143.45 536.92,143.44 537.64,143.43 538.36,143.42 539.09,143.41 539.87,143.40" fill="none" stroke="#000000" stroke-width="1.50" stroke-linejoin="round"/></g><rect x="321.50" y="133.20" width="218.50" height="218.30" fill="none" stroke="#000" stroke-width="0.7"/><rect x="448.8" y="206.1" width="87.4" height="71.7" rx="2" fill="rgba(255,255,255,0.85)" stroke="#d6d6d6" stroke-width="0.7"/><line x1="451.1" y1="211.90" x2="466.7" y2="211.90" stroke="#111111" stroke-width="1.5"/><g transform="translate(471.80 214.40)" fill="#262626" stroke="#262626" stroke-width="0.12"><text xml:space="preserve" x="0.00" y="0.00" font-size="7.28" textLength="58.42" lengthAdjust="spacingAndGlyphs">encircled energy</text></g><line x1="451.1" y1="221.78" x2="466.7" y2="221.78" stroke="#e8452a" stroke-width="1.5"/><g transform="translate(471.80 224.28)" fill="#262626" stroke="#262626" stroke-width="0.12"><text xml:space="preserve" x="0.00" y="0.00" font-size="7.28" textLength="33.37" lengthAdjust="spacingAndGlyphs">radial int.</text></g><line x1="451.1" y1="231.66" x2="466.7" y2="231.66" stroke="#f5a83a" stroke-width="1.5"/><g transform="translate(471.80 234.16)" fill="#262626" stroke="#262626" stroke-width="0.12"><text xml:space="preserve" x="0.00" y="0.00" font-size="7.28" textLength="46.86" lengthAdjust="spacingAndGlyphs">fit (order 9.2)</text></g><line x1="451.1" y1="241.54" x2="466.7" y2="241.54" stroke="#3c58ee" stroke-width="1.5"/><g transform="translate(471.80 244.04)" fill="#262626" stroke="#262626" stroke-width="0.12"><text xml:space="preserve" x="0.00" y="0.00" font-size="7.28" textLength="61.24" lengthAdjust="spacingAndGlyphs">50.0 % enc. ener.</text></g><line x1="451.1" y1="251.42" x2="466.7" y2="251.42" stroke="#80f0fa" stroke-width="1.5"/><g transform="translate(471.80 253.92)" fill="#262626" stroke="#262626" stroke-width="0.12"><text xml:space="preserve" x="0.00" y="0.00" font-size="7.28" textLength="61.24" lengthAdjust="spacingAndGlyphs">80.0 % enc. ener.</text></g><line x1="451.1" y1="261.30" x2="466.7" y2="261.30" stroke="#74cc6c" stroke-width="1.5"/><g transform="translate(471.80 263.80)" fill="#262626" stroke="#262626" stroke-width="0.12"><text xml:space="preserve" x="0.00" y="0.00" font-size="7.28" textLength="61.24" lengthAdjust="spacingAndGlyphs">90.0 % enc. ener.</text></g><line x1="451.1" y1="271.18" x2="466.7" y2="271.18" stroke="#ee4c2c" stroke-width="1.5"/><g transform="translate(471.80 273.68)" fill="#262626" stroke="#262626" stroke-width="0.12"><text xml:space="preserve" x="0.00" y="0.00" font-size="7.28" textLength="61.24" lengthAdjust="spacingAndGlyphs">95.0 % enc. ener.</text></g></svg>
<script>(function(){
var c=document.getElementById('hm');if(!c.getContext)return;
var ctx=c.getContext('2d');var W=c.width,H=c.height;
var img=ctx.createImageData(W,H);var d=img.data;
var s=123456789;function rnd(){s^=s<<13;s^=s>>>17;s^=s<<5;return ((s>>>0)%1e9)/1e9;}
function gauss(){var u=rnd()||1e-9,v=rnd();return Math.sqrt(-2*Math.log(u))*Math.cos(6.2831853*v);}
var st=[[0,16,5,5],[0.125,90,26,14],[0.25,168,48,32],[0.39,240,74,40],[0.5,240,120,48],[0.625,245,176,64],[0.75,255,248,74],[0.875,255,250,160],[1,255,255,240]];
var o=[0,0,0];
function cmap(t){if(t<0)t=0;if(t>1)t=1;for(var i=1;i<st.length;i++){if(t<=st[i][0]){var a=st[i-1],b=st[i],f=(t-a[0])/(b[0]-a[0]);o[0]=a[1]+(b[1]-a[1])*f;o[1]=a[2]+(b[2]-a[2])*f;o[2]=a[3]+(b[3]-a[3])*f;return;}}}
function pw(tab,R){if(R<=tab[0][0])return tab[0][1];for(var i=1;i<tab.length;i++){if(R<=tab[i][0]){var a=tab[i-1],b=tab[i];return a[1]+(b[1]-a[1])*(R-a[0])/(b[0]-a[0]);}}return tab[tab.length-1][1];}
var TP=[[0, 0.86], [40, 0.84], [46, 0.79], [49, 0.72], [51.5, 0.62], [54, 0.48], [57, 0.38], [61, 0.31], [68, 0.25], [80, 0.18], [95, 0.12], [120, 0.08]], MP=[[0, 1], [56, 1], [62, 0.85], [72, 0.6], [84, 0.43], [100, 0.33], [120, 0.27], [150, 0.23]];
var CX=110.1,CY=112.7;
var A=new Float32Array(W*H*3);
for(var y=0;y<H;y++)for(var x=0;x<W;x++){
 var dx=x+0.5-CX,dy=y+0.5-CY;
 var R=Math.sqrt(dx*dx+dy*dy)*(1+0.02*gauss());
 var tm=pw(TP,R)+0.06*gauss(), m=pw(MP,R);
 for(var si=0;si<[[-48.6, 106, 55, 4, 0.35]].length;si++){var S=[[-48.6, 106, 55, 4, 0.35]][si];var ux=S[0],uy=S[1];var l=Math.sqrt(ux*ux+uy*uy);ux/=l;uy/=l;
  var along=dx*ux+dy*uy, perp=Math.abs(-dx*uy+dy*ux);
  if(along>S[2]){var wgt=Math.exp(-perp*perp/(2*S[3]*S[3]))*S[4];m=m+(1-m)*wgt;}}
 var r=0,g=0,b=0; var KS=R<95?2:(R<125?3:4);
 for(var k=0;k<KS;k++){
  if(rnd()<m){cmap(tm+0.07*gauss());r+=o[0];g+=o[1];b+=o[2];}
  else{r+=255;g+=255;b+=255;}
 }
 var p=(y*W+x)*3;A[p]=r/KS;A[p+1]=g/KS;A[p+2]=b/KS;
}
var BW=0.1;
for(var y=0;y<H;y++)for(var x=0;x<W;x++){
 var p=(y*W+x)*3,q=(y*W+x)*4;
 var xl=x>0?p-3:p,xr=x<W-1?p+3:p,yu=y>0?p-3*W:p,yd=y<H-1?p+3*W:p;
 for(var ch=0;ch<3;ch++){d[q+ch]=A[p+ch]*(1-4*BW)+BW*(A[xl+ch]+A[xr+ch]+A[yu+ch]+A[yd+ch]);}
 d[q+3]=255;
}
ctx.putImageData(img,0,0);
})();
</script>
</body></html>
